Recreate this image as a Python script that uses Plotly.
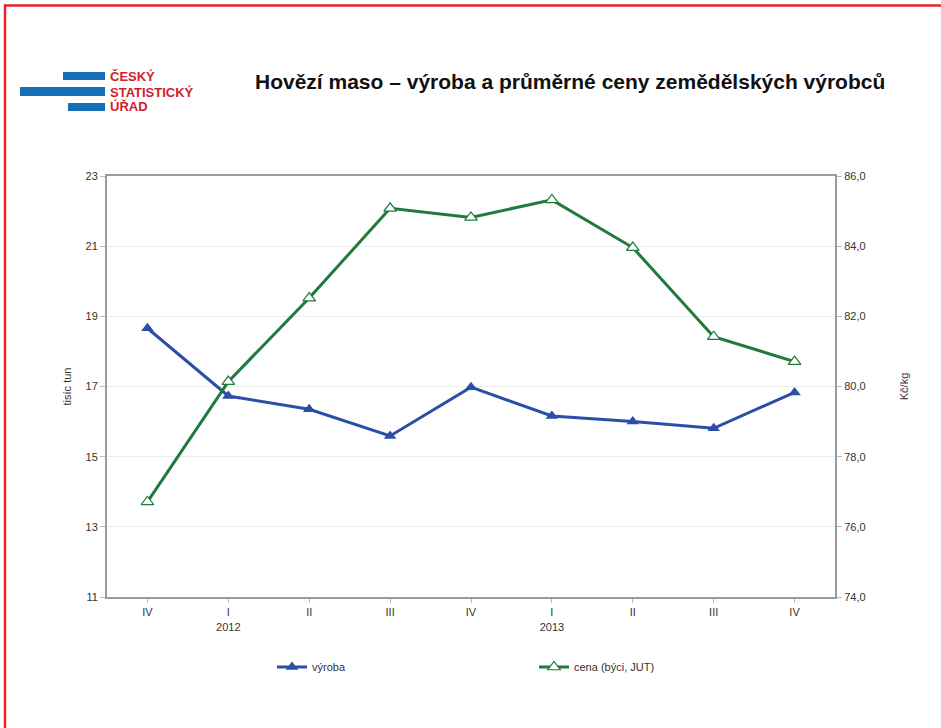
import plotly.graph_objects as go

# ctvrtleti IV/2011 .. IV/2013
kvartaly = ["IV", "I<br>2012", "II", "III", "IV", "I<br>2013", "II", "III", "IV"]
vyroba = [18.66, 16.73, 16.35, 15.59, 16.98, 16.16, 16.00, 15.81, 16.83]   # tis. tun
cena = [76.71, 80.14, 82.52, 85.08, 84.82, 85.32, 83.96, 81.42, 80.71]      # Kč/kg

W, H = 941, 728
L, R, T, B = 107, 835, 176, 597   # plot area in pixels


def px(x):
    return (x - L) / (R - L)


def py(y):
    return (B - y) / (B - T)


fig = go.Figure()

fig.add_trace(go.Scatter(
    x=list(range(len(kvartaly))), y=vyroba, name="výroba",
    mode="lines+markers",
    line=dict(color="#2b4ea6", width=3),
    marker=dict(symbol="triangle-up", size=11, color="#2b4ea6"),
))

fig.add_trace(go.Scatter(
    x=list(range(len(kvartaly))), y=cena, name="cena (býci, JUT)",
    mode="lines+markers", yaxis="y2",
    line=dict(color="#1f7a3c", width=3),
    marker=dict(symbol="triangle-up", size=11, color="white",
                line=dict(color="#1f7a3c", width=1.2)),
))

shapes = []
# cerveny ramecek
shapes.append(dict(type="line", xref="paper", yref="paper",
                   x0=px(4), x1=px(W + 2), y0=py(5.5), y1=py(5.5),
                   line=dict(color="#e8222b", width=2.5)))
shapes.append(dict(type="line", xref="paper", yref="paper",
                   x0=px(5), x1=px(5), y0=py(4.5), y1=py(H + 2),
                   line=dict(color="#e8222b", width=2.5)))
# logo CSU - modre pruhy
for x0, y0, x1, y1 in [(63, 72, 105, 80), (20, 87, 105, 96), (68, 103, 105, 111)]:
    shapes.append(dict(type="rect", xref="paper", yref="paper",
                       x0=px(x0), x1=px(x1), y0=py(y1), y1=py(y0),
                       line=dict(width=0), fillcolor="#1570b8"))

annotations = []
for txt, yy in [("ČESKÝ", 76), ("STATISTICKÝ", 92), ("ÚŘAD", 107)]:
    annotations.append(dict(text="<b>" + txt + "</b>", xref="paper", yref="paper",
                            x=px(108), y=py(yy), xanchor="left", yanchor="middle",
                            showarrow=False,
                            font=dict(family="Liberation Sans", size=13, color="#d0202e")))
annotations.append(dict(
    text="<b>Hovězí maso – výroba a průměrné ceny zemědělských výrobců</b>",
    xref="paper", yref="paper", x=px(570), y=py(82), xanchor="center", yanchor="middle",
    showarrow=False, font=dict(family="Liberation Sans", size=21, color="#111")))

fig.update_layout(
    width=W, height=H,
    margin=dict(l=L, r=W - R, t=T, b=H - B),
    paper_bgcolor="white", plot_bgcolor="white",
    separators=", ",
    font=dict(family="Liberation Sans", size=11, color="#333"),
    showlegend=True,
    legend=dict(orientation="h", x=px(272), y=py(667), xanchor="left", yanchor="middle",
                entrywidth=217, entrywidthmode="pixels",
                font=dict(size=11, color="#333")),
    shapes=shapes,
    annotations=annotations,
    xaxis=dict(
        tickmode="array", tickvals=list(range(len(kvartaly))), ticktext=kvartaly,
        range=[-0.5, len(kvartaly) - 0.5],
        showline=True, linecolor="#9a9a9a", linewidth=2, mirror=True,
        ticks="outside", ticklen=4, tickcolor="#bbbbbb",
        showgrid=False, zeroline=False,
    ),
    yaxis=dict(
        title=dict(text="tisíc tun", font=dict(size=11, color="#333"), standoff=12),
        range=[11, 23], dtick=2, tick0=11,
        showline=True, linecolor="#9a9a9a", linewidth=2,
        ticks="outside", ticklen=5, tickcolor="#bbbbbb",
        gridcolor="#ececec", gridwidth=1, zeroline=False,
    ),
    yaxis2=dict(
        title=dict(text="Kč/kg", font=dict(size=11, color="#333"), standoff=36),
        range=[74, 86], dtick=2, tickformat=".1f",
        overlaying="y", side="right",
        showline=True, linecolor="#9a9a9a", linewidth=2,
        ticks="outside", ticklen=5, tickcolor="#bbbbbb",
        showgrid=False, zeroline=False,
    ),
)

# bez okraje stranky, aby graf sedel na 941x728
fig.write_html("out.html", config={"displayModeBar": False},
               post_script="document.body.style.margin='0';")
